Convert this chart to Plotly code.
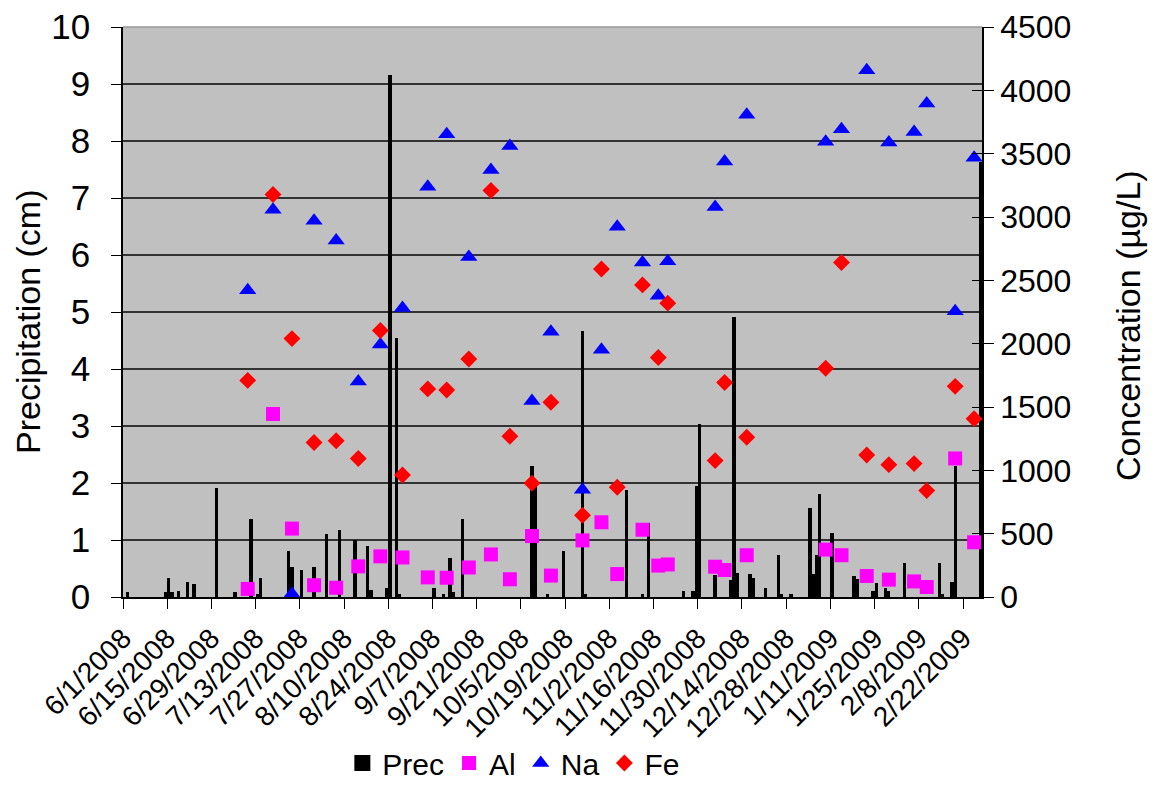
import pandas as pd
import plotly.graph_objects as go

# Precipitation (cm), daily
prec_dates = ["2008-06-02", "2008-06-14", "2008-06-15", "2008-06-16", "2008-06-18", "2008-06-21",
              "2008-06-23", "2008-06-30", "2008-07-06", "2008-07-11", "2008-07-13", "2008-07-14",
              "2008-07-23", "2008-07-24", "2008-07-27", "2008-07-31", "2008-08-04", "2008-08-08",
              "2008-08-13", "2008-08-17", "2008-08-18", "2008-08-23", "2008-08-24", "2008-08-26",
              "2008-08-27", "2008-09-07", "2008-09-10", "2008-09-12", "2008-09-13", "2008-09-16",
              "2008-10-08", "2008-10-09", "2008-10-13", "2008-10-18", "2008-10-24", "2008-10-25",
              "2008-11-07", "2008-11-12", "2008-11-14", "2008-11-25", "2008-11-28", "2008-11-29",
              "2008-11-30", "2008-12-05", "2008-12-10", "2008-12-11", "2008-12-12", "2008-12-16",
              "2008-12-17", "2008-12-21", "2008-12-25", "2008-12-26", "2008-12-29", "2009-01-04",
              "2009-01-05", "2009-01-06", "2009-01-07", "2009-01-11", "2009-01-18", "2009-01-19",
              "2009-01-24", "2009-01-25", "2009-01-28", "2009-01-29", "2009-02-03", "2009-02-14",
              "2009-02-15", "2009-02-18", "2009-02-19", "2009-02-27"]
prec_values = [0.08, 0.08, 0.34, 0.08, 0.11, 0.27,
               0.22, 1.91, 0.08, 1.36, 0.06, 0.34,
               0.81, 0.52, 0.47, 0.52, 1.10, 1.17,
               1.00, 0.89, 0.13, 0.15, 9.16, 4.54,
               0.06, 0.16, 0.05, 0.68, 0.08, 1.36,
               2.29, 2.05, 0.05, 0.81, 4.66, 0.05,
               1.88, 0.06, 1.30, 0.11, 0.10, 1.95,
               3.03, 0.38, 0.29, 4.91, 0.42, 0.40,
               0.34, 0.15, 0.73, 0.05, 0.05, 1.57,
               0.40, 0.73, 1.80, 1.12, 0.36, 0.32,
               0.10, 0.24, 0.15, 0.10, 0.60, 0.60,
               0.05, 0.26, 2.30, 7.63]

# Sampling dates for concentrations (ug/L)
sample_dates = ["2008-07-10", "2008-07-18", "2008-07-24", "2008-07-31", "2008-08-07", "2008-08-14",
                "2008-08-21", "2008-08-28", "2008-09-05", "2008-09-11", "2008-09-18", "2008-09-25",
                "2008-10-01", "2008-10-08", "2008-10-14", "2008-10-24", "2008-10-30", "2008-11-04",
                "2008-11-12", "2008-11-17", "2008-11-20", "2008-12-05", "2008-12-08", "2008-12-15",
                "2009-01-09", "2009-01-14", "2009-01-22", "2009-01-29", "2009-02-06", "2009-02-10",
                "2009-02-19", "2009-02-25"]
al_values = [64, 1445, 540, 93, 73, 242, 321, 312, 155, 152, 233, 336,
             140, 481, 169, 447, 590, 181, 531, 248, 257, 239, 213, 330,
             374, 330, 166, 137, 123, 79, 1094, 432]
na_values = [2422, 3058, 25, 2971, 2815, 1701, 1993, 2282, 3239, 3654, 2685, 3371,
             3560, 1547, 2095, 846, 1952, 2924, 2641, 2378, 2650, 3079, 3438, 3808,
             3595, 3692, 4158, 3589, 3671, 3896, 2256, 3467]
fe_values = [1710, 3178, 2040, 1220, 1234, 1094, 2104, 963, 1643, 1634, 1879, 3210,
             1269, 899, 1538, 645, 2589, 867, 2464, 1891, 2320, 1077, 1693, 1261,
             1806, 2641, 1121, 1045, 1053, 840, 1663, 1407]

tick_dates = pd.date_range("2008-06-01", "2009-02-22", freq="14D")
tick_labels = [f"{d.month}/{d.day}/{d.year}" for d in tick_dates]

half_day = pd.Timedelta(hours=12)
px_ = pd.to_datetime(prec_dates) + half_day
sx_ = pd.to_datetime(sample_dates) + half_day

FONT = "Liberation Sans, Arial, sans-serif"

fig = go.Figure()
fig.add_trace(go.Bar(x=px_, y=prec_values, name="Prec", marker=dict(color="#000000", line=dict(width=0)),
                     width=86400000 * 1.05, yaxis="y", showlegend=False))
# legend entry for precipitation drawn as a larger black square (as in the reference key)
fig.add_trace(go.Scatter(x=[None], y=[None], name="Prec", mode="markers", yaxis="y",
                         marker=dict(symbol="square", size=17, color="#000000")))
fig.add_trace(go.Scatter(x=sx_, y=al_values, name="Al", mode="markers", yaxis="y2",
                         marker=dict(symbol="square", size=14, color="#FF00FF")))
fig.add_trace(go.Scatter(x=sx_, y=na_values, name="Na", mode="markers", yaxis="y2",
                         marker=dict(symbol="triangle-up", size=15, color="#0000FF")))
fig.add_trace(go.Scatter(x=sx_, y=fe_values, name="Fe", mode="markers", yaxis="y2",
                         marker=dict(symbol="diamond", size=13, color="#FF0000")))
# invisible trace to carry the inside half of the right axis' crossing ticks
fig.add_trace(go.Scatter(x=[], y=[], yaxis="y3", showlegend=False, hoverinfo="skip"))

fig.update_layout(
    width=1157, height=790,
    margin=dict(l=123, r=175, t=27, b=193, autoexpand=False),
    paper_bgcolor="white", plot_bgcolor="#C0C0C0",
    font=dict(family=FONT, color="black"),
    bargap=0,
    showlegend=True,
    legend=dict(orientation="h", x=0.455, xanchor="center", y=(597 - 789) / 570, yanchor="bottom",
                font=dict(size=30, family=FONT), itemsizing="trace", traceorder="normal",
                itemwidth=30, tracegroupgap=0, bgcolor="rgba(0,0,0,0)", borderwidth=0),
    xaxis=dict(type="date", range=["2008-06-01", "2009-02-28"], tickvals=tick_dates, ticktext=tick_labels,
               tickangle=-45, tickfont=dict(size=28), ticks="outside", ticklen=10, tickcolor="#000",
               showgrid=False, showline=True, linecolor="#000", linewidth=1.5, mirror=False,
               zeroline=False, automargin=False, ticklabelstandoff=2),
    yaxis=dict(range=[0, 10], dtick=1, tickfont=dict(size=35), showgrid=True, gridcolor="#333333",
               gridwidth=1.5, ticks="outside", ticklen=10, tickcolor="#000", showline=True,
               linecolor="#000", linewidth=1.5, zeroline=False, automargin=False,
               ticklabelstandoff=14),
    yaxis2=dict(range=[0, 4500], dtick=500, overlaying="y", side="right", showgrid=False,
                tickfont=dict(size=32), ticks="outside", ticklen=10, tickcolor="#000", showline=True,
                linecolor="#000", linewidth=1.5, zeroline=False, automargin=False),
    yaxis3=dict(range=[0, 4500], dtick=500, overlaying="y", side="right", showgrid=False,
                showticklabels=False, ticks="inside", ticklen=10, tickcolor="#000", showline=False,
                zeroline=False, automargin=False),
)
# light gray plot border on top
fig.add_shape(type="line", xref="paper", yref="paper", x0=0, x1=1, y0=1, y1=1,
              line=dict(color="#999999", width=1.5))
# axis titles
fig.add_annotation(text="Precipitation (cm)", xref="paper", yref="paper", x=-95 / 859, y=(597 - 322) / 570,
                   xanchor="center", yanchor="middle", textangle=-90, showarrow=False,
                   font=dict(size=34, family=FONT))
fig.add_annotation(text="Concentration (µg/L)", xref="paper", yref="paper", x=1 + 146 / 859,
                   y=(597 - 326) / 570, xanchor="center", yanchor="middle", textangle=-90,
                   showarrow=False, font=dict(size=34, family=FONT))

fig.write_html("out.html")
